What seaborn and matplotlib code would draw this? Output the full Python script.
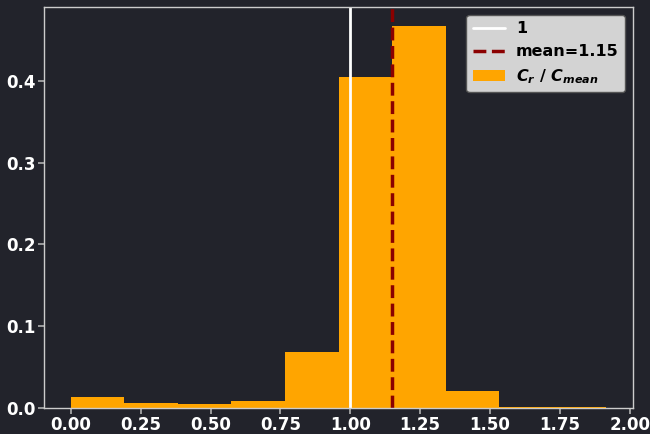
import numpy as np
import matplotlib
matplotlib.use("Agg")
import matplotlib.pyplot as plt
import seaborn as sns

# Histogram of C_r / C_mean: bin edges and share of samples per bin
bin_edges = [0.0, 0.1916, 0.3832, 0.5748, 0.7664, 0.958, 1.1496, 1.3412, 1.5328, 1.7244, 1.916]
bin_share = [0.0138, 0.0061, 0.0044, 0.0086, 0.0685, 0.405, 0.467, 0.0203, 0.0016, 0.0016]
reference_value = 1.0
mean_value = 1.15

bg = "#22232b"
sns.set_theme(style="dark")
plt.rcParams.update({
    "font.family": ["DejaVu Sans"],
    "font.weight": "bold",
    "mathtext.fontset": "custom",
    "mathtext.it": "DejaVu Sans:italic:bold",
    "mathtext.rm": "DejaVu Sans:bold",
})

fig = plt.figure(figsize=(6.5, 4.34), dpi=100, facecolor=bg)
ax = fig.add_axes([44 / 650, 1 - 408 / 434, (633 - 44) / 650, (408 - 7) / 434])
ax.set_facecolor(bg)

centers = [(a + b) / 2 for a, b in zip(bin_edges[:-1], bin_edges[1:])]
sns.histplot(x=centers, weights=bin_share, bins=bin_edges, ax=ax,
             color="orange", alpha=1.0, edgecolor="none", linewidth=0,
             label=r"$C_r$ / $C_{mean}$")

ax.axvline(reference_value, color="white", lw=2, label=f"{reference_value:g}")
ax.axvline(mean_value, color="darkred", lw=2.5, ls="--", label=f"mean={mean_value:.2f}")

ax.set_xlabel("")
ax.set_ylabel("")
ax.set_xticks([0.0, 0.25, 0.5, 0.75, 1.0, 1.25, 1.5, 1.75, 2.0])
ax.set_yticks([0.0, 0.1, 0.2, 0.3, 0.4])
ax.tick_params(colors="white", labelsize=12, length=4, pad=2, color="#aaaaaa",
               bottom=True, left=True)
for lab in ax.get_xticklabels() + ax.get_yticklabels():
    lab.set_fontweight("bold")
for sp in ax.spines.values():
    sp.set_color("#cccccc")
    sp.set_linewidth(1)

handles, labels = ax.get_legend_handles_labels()
order = [labels.index(f"{reference_value:g}"),
         labels.index(f"mean={mean_value:.2f}"),
         labels.index(r"$C_r$ / $C_{mean}$")]
leg = ax.legend([handles[i] for i in order], [labels[i] for i in order],
                loc="upper right", prop={"weight": "bold", "size": 11.5},
                labelspacing=0.5, handletextpad=0.7,
                facecolor="#d3d3d3", edgecolor="#555555", framealpha=1.0)
for t in leg.get_texts():
    t.set_color("black")

fig.savefig("out.png", dpi=100, facecolor=bg)
